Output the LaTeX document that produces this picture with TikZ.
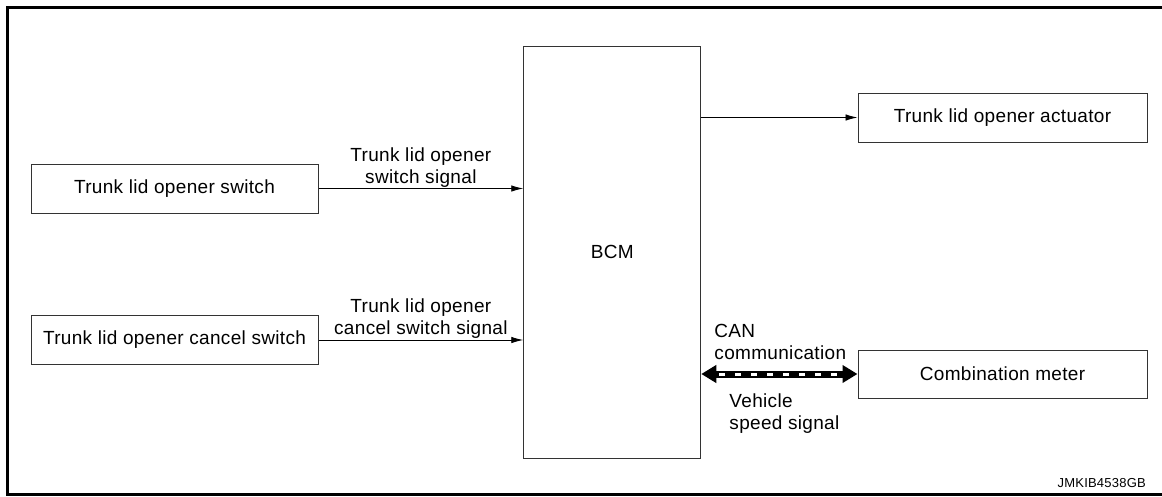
\documentclass[tikz,border=0pt]{standalone}
\usepackage{fontspec}
\setmainfont[LetterSpace=1.7]{Liberation Sans}
\usetikzlibrary{arrows.meta,positioning,calc}

\begin{document}
\begin{tikzpicture}[x=1pt, y=-1pt,
  box/.style={draw=black!80, line width=1pt, rectangle, minimum width=288pt, minimum height=49pt, align=center, inner sep=0pt, font=\fontsize{19}{23}\selectfont},
  lbl/.style={inner sep=1pt, font=\fontsize{19}{22}\selectfont},
  arr/.style={-{Latex[length=12pt,width=6.5pt]}, line width=0.9pt},
  can/.style={line width=7pt, {Triangle[length=15pt,width=17pt]}-{Triangle[length=15pt,width=17pt]}}]
\useasboundingbox (0,0) rectangle (1162,496);
% 枠
\draw[line width=3pt] (1170,7.5) -- (7.5,7.5) -- (7.5,494) -- (1170,494);
% BCM
\node[box, minimum width=177pt, minimum height=412pt] (bcm) at (612.25,252) {BCM};
% 入力
\node[box, minimum width=287pt] (S1) at (174.5,188.5) {Trunk lid opener switch};
\node[box, minimum width=287pt] (S2) at (174.5,340) {Trunk lid opener cancel switch};
% 出力
\node[box, minimum width=289pt] (O1) at (1002.5,117.5) {Trunk lid opener actuator};
\node[box, minimum width=289pt, minimum height=48pt] (O2) at (1002.5,374) {Combination meter};
\draw[arr] (S1.east) -- (S1.east -| bcm.west)
  node[lbl, pos=0.5, above, align=center]{Trunk lid opener\\switch signal};
\draw[arr] (S2.east) -- (S2.east -| bcm.west)
  node[lbl, pos=0.5, above, align=center]{Trunk lid opener\\cancel switch signal};
\draw[arr] (bcm.east |- O1.west) -- (O1.west);
% CAN通信
\draw[can] (bcm.east |- O2.west) -- (O2.west);
\draw[white, line width=3pt, dash pattern=on 6pt off 10pt] ([xshift=18pt]bcm.east |- O2.west) -- ([xshift=-16pt]O2.west);
\node[lbl, align=left, anchor=south west] (canl) at ([xshift=12pt,yshift=13pt]bcm.east |- O2.west) {CAN\\communication};
\node[lbl, align=left, anchor=north west] (spd) at ([xshift=27pt,yshift=-19pt]bcm.east |- O2.west) {Vehicle\\speed signal};
\node[inner sep=0pt, anchor=east, font=\fontsize{13}{15}\selectfont] (code) at (1146,483) {JMKIB4538GB};
\end{tikzpicture}
\end{document}
